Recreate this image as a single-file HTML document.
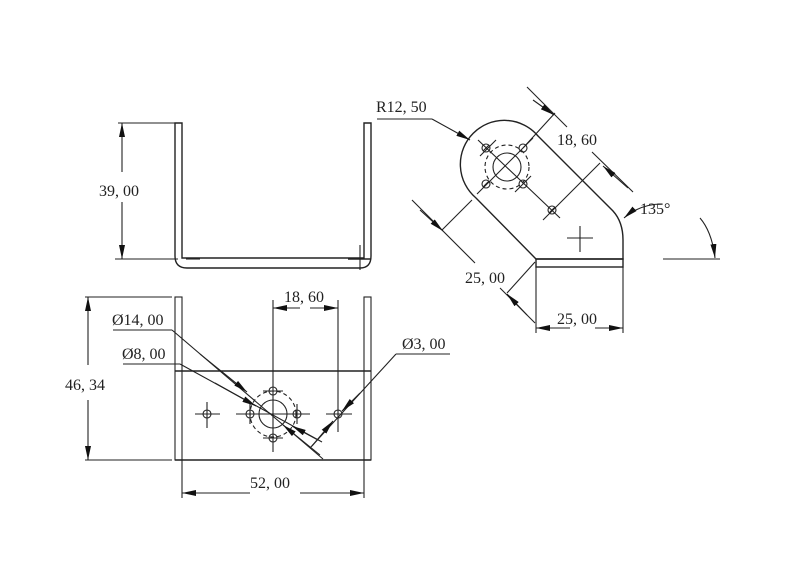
<!DOCTYPE html>
<html><head><style>body{margin:0;background:#fff}svg{display:block}text{font-family:"Liberation Serif",serif;font-size:16px;fill:#222}</style></head><body>
<svg width="800" height="586" viewBox="0 0 800 586" xmlns="http://www.w3.org/2000/svg">
<defs><marker id="a" viewBox="0 0 14 6" refX="14" refY="3" markerWidth="14" markerHeight="6" orient="auto" markerUnits="userSpaceOnUse"><path d="M0,0L14,3L0,6z" fill="#111"/></marker></defs>
<g stroke="#222" fill="none" stroke-width="1.1">
<path d="M175,123V256Q175,268 187,268H360Q371,268 371,256V123H364V258H182V123Z" stroke-width="1.4"/>
<line x1="186" y1="259" x2="200" y2="259"/><line x1="348" y1="259" x2="371" y2="259" stroke-width="1.5"/><line x1="360" y1="245" x2="360" y2="270"/>
<line x1="118" y1="123" x2="178" y2="123"/><line x1="115" y1="259" x2="178" y2="259"/>
<line x1="122" y1="172" x2="122" y2="123" marker-end="url(#a)"/><line x1="122" y1="202" x2="122" y2="259" marker-end="url(#a)"/>
<rect x="175" y="297" width="7" height="163"/><rect x="364" y="297" width="7" height="163"/>
<line x1="175" y1="371" x2="371" y2="371" stroke-width="1.6"/><line x1="175" y1="460" x2="371" y2="460" stroke-width="1.4"/>
<line x1="85" y1="297" x2="172" y2="297"/><line x1="85" y1="460" x2="172" y2="460"/>
<line x1="88" y1="365" x2="88" y2="297" marker-end="url(#a)"/><line x1="88" y1="400" x2="88" y2="460" marker-end="url(#a)"/>
<line x1="182" y1="460" x2="182" y2="498"/><line x1="364" y1="460" x2="364" y2="498"/>
<line x1="250" y1="493" x2="182" y2="493" marker-end="url(#a)"/><line x1="300" y1="493" x2="364" y2="493" marker-end="url(#a)"/>
<line x1="273" y1="300" x2="273" y2="452"/><line x1="338" y1="300" x2="338" y2="432"/>
<line x1="300" y1="308" x2="273" y2="308" marker-end="url(#a)"/><line x1="310" y1="308" x2="338" y2="308" marker-end="url(#a)"/>
<circle cx="273" cy="414" r="14"/><circle cx="273" cy="414" r="23" stroke-dasharray="4,3"/>
<g><circle cx="273" cy="391" r="4"/><circle cx="273" cy="438" r="4"/><circle cx="250" cy="414" r="4"/><circle cx="297" cy="414" r="4"/><circle cx="207" cy="414" r="4"/><circle cx="338" cy="414" r="4"/></g>
<path d="M195,414H220M207,402V428M236,414H310M263,391H283M263,438H283M250,404V424M297,404V424M326,414H352"/>
<line x1="113" y1="330" x2="172" y2="330"/><line x1="172" y1="330" x2="323" y2="459"/><line x1="200" y1="354" x2="247" y2="392" marker-end="url(#a)"/><line x1="320" y1="455" x2="283" y2="425" marker-end="url(#a)"/>
<line x1="123" y1="364" x2="180" y2="364"/><line x1="180" y1="364" x2="322" y2="442"/><line x1="215" y1="383" x2="256" y2="406" marker-end="url(#a)"/><line x1="318" y1="440" x2="292" y2="426" marker-end="url(#a)"/>
<line x1="396" y1="354" x2="450" y2="354"/><line x1="396" y1="354" x2="310" y2="448"/><line x1="360" y1="393" x2="342" y2="411" marker-end="url(#a)"/><line x1="312" y1="446" x2="333" y2="421" marker-end="url(#a)"/>
<path d="M538,136L613,211Q623,222 623,240V259H536L476,198A44,44 0 1 1 538,136Z" stroke-width="1.4"/>
<rect x="536" y="259" width="87" height="8" stroke-width="1.4"/>
<circle cx="507" cy="167" r="14"/><circle cx="507" cy="167" r="22" stroke-dasharray="4,3"/>
<g><circle cx="486" cy="148" r="4"/><circle cx="523" cy="148" r="4"/><circle cx="486" cy="184" r="4"/><circle cx="523" cy="184" r="4"/><circle cx="552" cy="210" r="4"/></g>
<path d="M478,140L560,218M533,138L477,194M496,140L480,156M515,192L531,176M567,238H593M580,226V252M483,151L489,145M520,151L526,145M483,187L489,181M520,187L526,181M549,213L555,207"/>
<line x1="527" y1="87" x2="567" y2="127"/><line x1="592" y1="152" x2="633" y2="192"/>
<line x1="523" y1="148" x2="555" y2="113"/><line x1="543" y1="220" x2="600" y2="163"/>
<line x1="533" y1="100" x2="554" y2="115" marker-end="url(#a)"/><line x1="628" y1="188" x2="603" y2="166" marker-end="url(#a)"/>
<line x1="412" y1="200" x2="475" y2="263"/><line x1="500" y1="288" x2="535" y2="323"/>
<line x1="442" y1="230" x2="472" y2="200"/><line x1="507" y1="293" x2="535" y2="262"/>
<line x1="420" y1="210" x2="443" y2="231" marker-end="url(#a)"/><line x1="527" y1="315" x2="507" y2="294" marker-end="url(#a)"/>
<line x1="536" y1="267" x2="536" y2="333"/><line x1="623" y1="267" x2="623" y2="333"/>
<line x1="570" y1="328" x2="536" y2="328" marker-end="url(#a)"/><line x1="595" y1="328" x2="623" y2="328" marker-end="url(#a)"/>
<path d="M662,204Q640,204 624,218" marker-end="url(#a)"/><path d="M700,218Q712,232 715,258" marker-end="url(#a)"/>
<line x1="663" y1="259" x2="720" y2="259"/>
<line x1="377" y1="119" x2="432" y2="119"/><line x1="432" y1="119" x2="470" y2="140" marker-end="url(#a)"/>
</g>
<text x="99" y="196">39, 00</text><text x="65" y="390">46, 34</text><text x="250" y="488">52, 00</text>
<text x="284" y="302">18, 60</text><text x="112" y="325">Ø14, 00</text><text x="122" y="359">Ø8, 00</text><text x="402" y="349">Ø3, 00</text>
<text x="376" y="112">R12, 50</text><text x="557" y="145">18, 60</text><text x="640" y="214">135°</text>
<text x="465" y="283">25, 00</text><text x="557" y="324">25, 00</text>
</svg>
</body></html>
